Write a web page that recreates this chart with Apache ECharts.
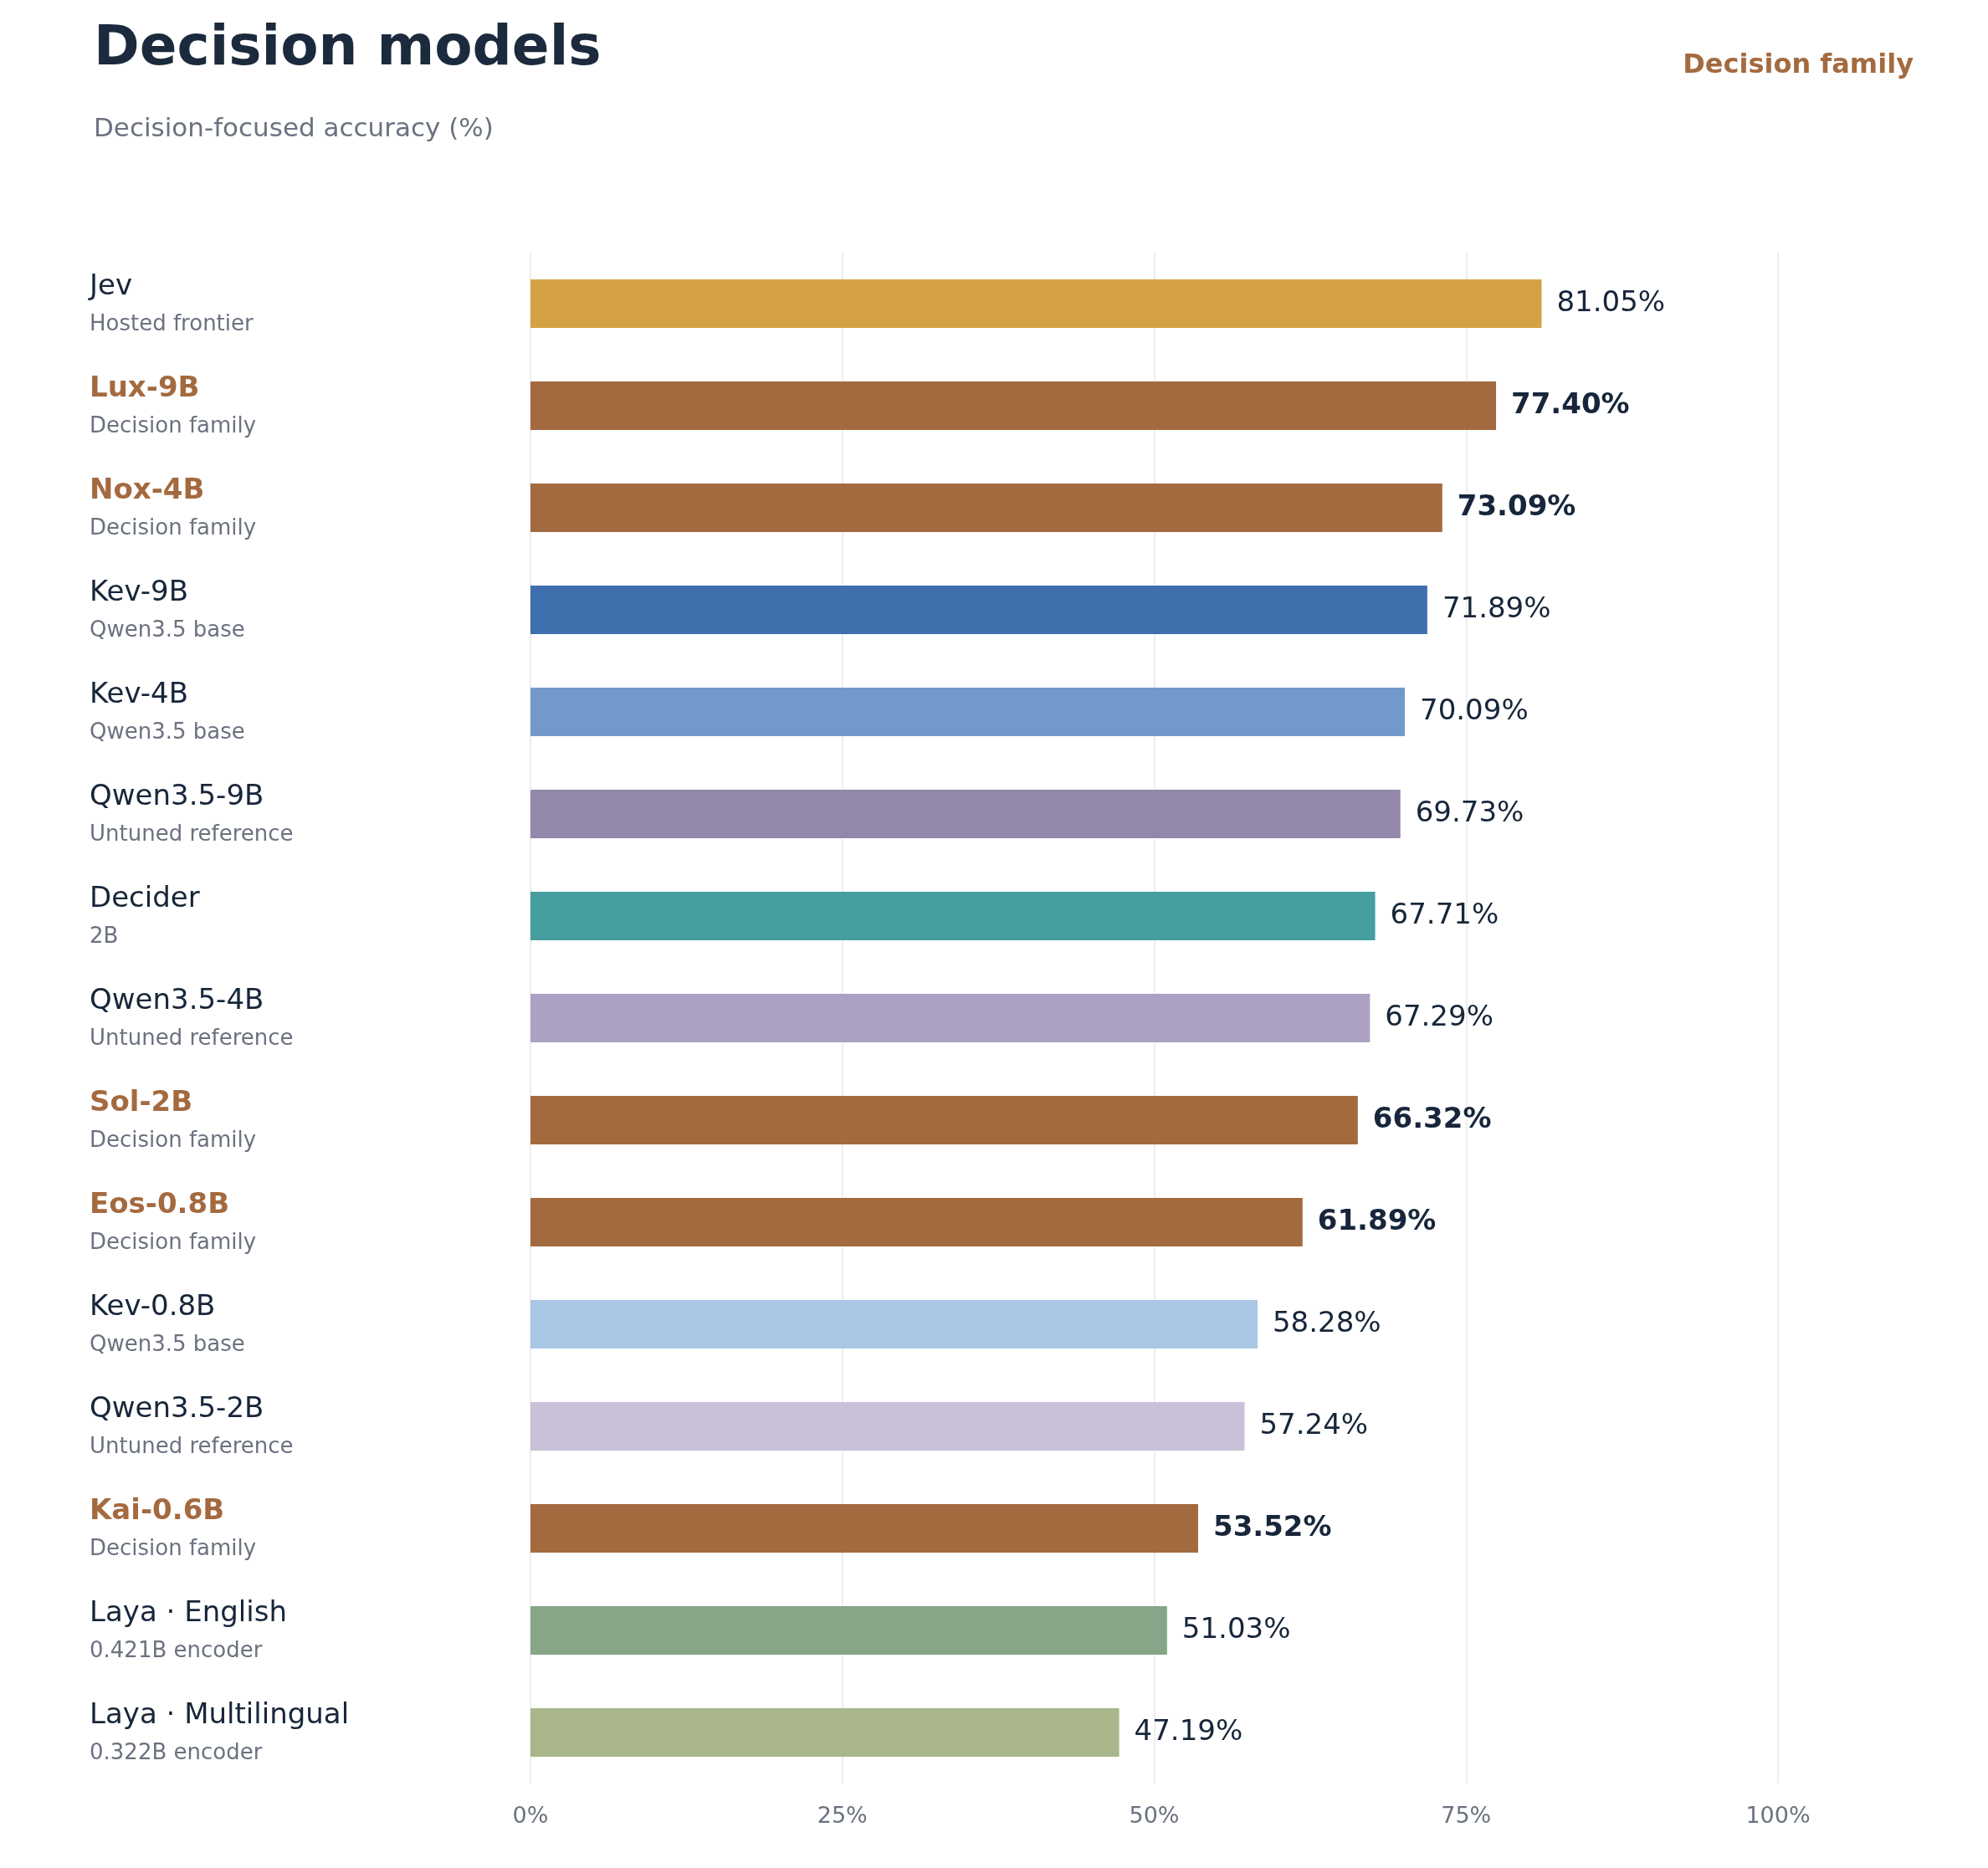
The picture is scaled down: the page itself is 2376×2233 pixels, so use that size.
<!DOCTYPE html>
<html><head><meta charset="utf-8">
<script src="https://cdn.jsdelivr.net/npm/echarts@6/dist/echarts.min.js"></script>
<style>html,body{margin:0;padding:0;background:#fff}#c{width:2376px;height:2233px}</style>
</head><body><div id="c"></div>
<script>
const names = ["Jev","Lux-9B","Nox-4B","Kev-9B","Kev-4B","Qwen3.5-9B","Decider","Qwen3.5-4B","Sol-2B","Eos-0.8B","Kev-0.8B","Qwen3.5-2B","Kai-0.6B","Laya · English","Laya · Multilingual"];
const groups = ["Hosted frontier","Decision family","Decision family","Qwen3.5 base","Qwen3.5 base","Untuned reference","2B","Untuned reference","Decision family","Decision family","Qwen3.5 base","Untuned reference","Decision family","0.421B encoder","0.322B encoder"];
const values = [81.05,77.40,73.09,71.89,70.09,69.73,67.71,67.29,66.32,61.89,58.28,57.24,53.52,51.03,47.19];
const colors = ["#D4A245","#A46A3F","#A46A3F","#406FAD","#7399CB","#9388AA","#479E9E","#ACA1C3","#A46A3F","#A46A3F","#AAC7E5","#C8C1D8","#A46A3F","#86A687","#A9B68B"];
const xTicks = [0,25,50,75,100];
const FAM = "Decision family";
const dark = "#17263A", gray = "#6B7280", brown = "#A46A3F";
const F = "DejaVu Sans";

const chart = echarts.init(document.getElementById('c'));
chart.setOption({
  backgroundColor:'#fff',
  textStyle:{fontFamily:F},
  title:[
    {text:'Decision models',left:107,top:22,textStyle:{fontFamily:F,fontSize:66,fontWeight:'bold',color:'#1B2A3C'}},
    {text:'Decision-focused accuracy (%)',left:107,top:134,textStyle:{fontFamily:F,fontSize:31,fontWeight:'normal',color:gray}},
    {text:'Decision family',right:84,top:58,textStyle:{fontFamily:F,fontSize:32,fontWeight:'bold',color:brown}}
  ],
  grid:{left:634,right:251,top:302,bottom:101,containLabel:false},
  xAxis:{type:'value',min:0,max:100,interval:25,
    axisLine:{show:false},axisTick:{show:false},
    splitLine:{show:true,lineStyle:{color:'#E8E8E8',width:1.5}},
    axisLabel:{formatter:v=>v+'%',color:gray,fontSize:27,margin:26,fontFamily:F}},
  yAxis:{type:'category',inverse:true,data:names,
    axisLine:{show:false},axisTick:{show:false},
    axisLabel:{align:'left',margin:527,fontFamily:F,
      formatter:(v,i)=>{const fam=groups[i]===FAM;return '{'+(fam?'nf':'n')+'|'+v+'}\n{s|'+groups[i]+'}';},
      rich:{
        n:{fontSize:34,color:dark,fontFamily:F,lineHeight:50},
        nf:{fontSize:34,color:brown,fontWeight:'bold',fontFamily:F,lineHeight:50},
        s:{fontSize:26,color:gray,fontFamily:F,lineHeight:40}
      }}},
  series:[{type:'bar',barWidth:58,
    data:values.map((v,i)=>({value:v,itemStyle:{color:colors[i]},
      label:{fontWeight:groups[i]===FAM?'bold':'normal'}})),
    label:{show:true,position:'right',distance:18,fontSize:34,color:dark,fontFamily:F,
      formatter:p=>p.value.toFixed(2)+'%'}
  }]
});
</script></body></html>
